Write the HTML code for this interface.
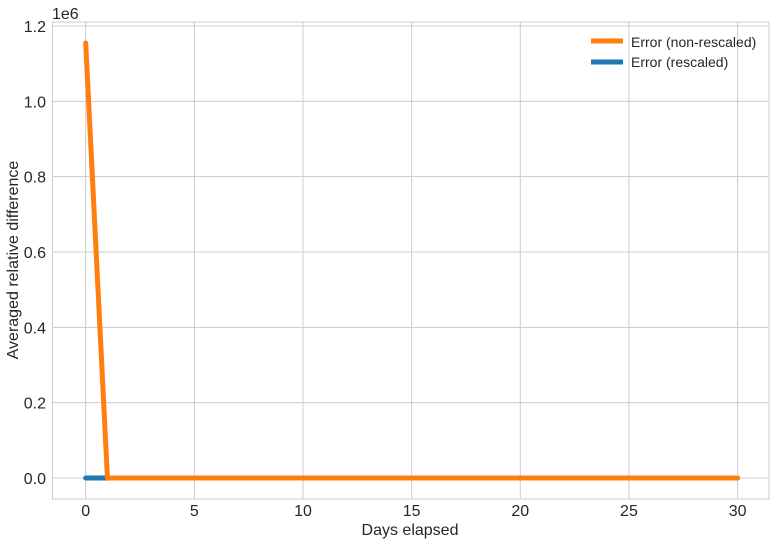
<!DOCTYPE html>
<html><head><meta charset="utf-8"><style>
body{margin:0;background:#fff}
svg text{font-family:"Liberation Sans",sans-serif;fill:#262626}
</style></head><body>
<svg id="chart" width="776" height="544" xmlns="http://www.w3.org/2000/svg">
<rect x="0" y="0" width="776" height="544" fill="#fff"/>
<g id="grid"></g>
<rect x="52.5" y="22" width="716.5" height="477" fill="none" stroke="#cccccc" stroke-width="1"/>
<g id="series"></g>
<text x="52" y="19" font-size="16">1e6</text>
<text x="410" y="535" font-size="16" text-anchor="middle">Days elapsed</text>
<text transform="translate(18,260) rotate(-90)" font-size="16" text-anchor="middle">Averaged relative difference</text>
<g>
<line x1="591" y1="41" x2="623" y2="41" stroke="#ff7f0e" stroke-width="5"/>
<text x="631" y="47" font-size="14">Error (non-rescaled)</text>
<line x1="591" y1="62" x2="623" y2="62" stroke="#1f77b4" stroke-width="5"/>
<text x="631" y="67" font-size="14">Error (rescaled)</text>
</g>
</svg>
<script>
const days=[];for(let i=0;i<=30;i++)days.push(i);
const nonRescaled=[1155000,0,0,0,0,0,0,0,0,0,0,0,0,0,0,0,0,0,0,0,0,0,0,0,0,0,0,0,0,0,0];
const rescaled=[0,0,0,0,0,0,0,0,0,0,0,0,0,0,0,0,0,0,0,0,0,0,0,0,0,0,0,0,0,0,0];
const xTicks=[0,5,10,15,20,25,30];
const yTicks=[0,0.2,0.4,0.6,0.8,1.0,1.2];
const NS="http://www.w3.org/2000/svg";
const xs=d=>85.7+d*21.73;
const ys=v=>478-v/1e6*(452/1.2);
const grid=document.getElementById('grid'),svg=document.getElementById('chart'),ser=document.getElementById('series');
xTicks.forEach(t=>{
 const l=document.createElementNS(NS,'line');
 
 
 l.setAttribute('x1',xs(t));l.setAttribute('x2',xs(t));l.setAttribute('y1',22);l.setAttribute('y2',499);
 l.setAttribute('stroke','#cccccc');grid.appendChild(l);
 const tx=document.createElementNS(NS,'text');
 
 
 tx.setAttribute('x',xs(t));tx.setAttribute('y',516);tx.setAttribute('font-size','16');tx.setAttribute('text-anchor','middle');
 tx.textContent=t;svg.appendChild(tx);
});
yTicks.forEach(t=>{
 const y=ys(t*1e6);
 const l=document.createElementNS(NS,'line');
 
 
 l.setAttribute('x1',52.5);l.setAttribute('x2',769);l.setAttribute('y1',y);l.setAttribute('y2',y);
 l.setAttribute('stroke','#cccccc');grid.appendChild(l);
 const tx=document.createElementNS(NS,'text');
 
 
 tx.setAttribute('x',46);tx.setAttribute('y',y+6);tx.setAttribute('font-size','16');tx.setAttribute('text-anchor','end');
 tx.textContent=t.toFixed(1);svg.appendChild(tx);
});
function line(vals,color,name){
 const p=document.createElementNS(NS,'polyline');
 
 
 p.setAttribute('points',vals.map((v,i)=>xs(days[i])+','+ys(v)).join(' '));
 p.setAttribute('fill','none');p.setAttribute('stroke',color);p.setAttribute('stroke-width','5');
 p.setAttribute('stroke-linecap','round');p.setAttribute('stroke-linejoin','round');
 ser.appendChild(p);
}
line(rescaled,'#1f77b4','series-rescaled');
line(nonRescaled,'#ff7f0e','series-non-rescaled');
</script>
</body></html>
